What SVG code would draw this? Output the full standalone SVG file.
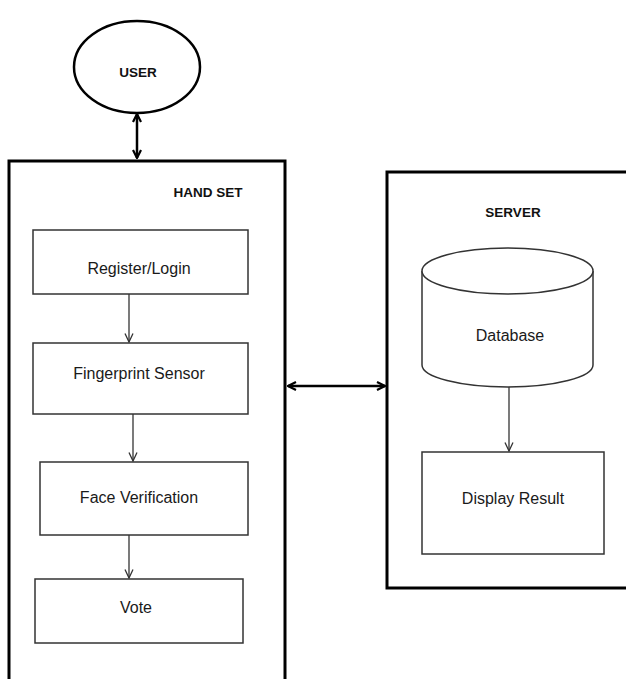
<svg xmlns="http://www.w3.org/2000/svg" width="626" height="679" viewBox="0 0 626 679">
<style>
.bg{fill:#fff}
.big{fill:none;stroke:#000;stroke-width:3}
.box{fill:#fff;stroke:#333;stroke-width:1.5}
.lbl{font-family:"Liberation Sans",Arial,sans-serif;font-size:16px;fill:#1a1a1a;text-anchor:middle}
.ttl{font-family:"Liberation Sans",Arial,sans-serif;font-size:13.5px;font-weight:bold;fill:#111;text-anchor:middle}
.thick{stroke:#000;stroke-width:2.5;fill:none}
.thin{stroke:#333;stroke-width:1.3;fill:none}
</style>
<defs>
<marker id="ah" viewBox="0 0 10 10" refX="9" refY="5" markerWidth="10" markerHeight="10" markerUnits="userSpaceOnUse" orient="auto-start-reverse">
<path d="M1,1 L9,5 L1,9" fill="none" stroke="#000" stroke-width="2.2"/>
</marker>
<marker id="at" viewBox="0 0 10 10" refX="9.5" refY="5" markerWidth="10" markerHeight="10" markerUnits="userSpaceOnUse" orient="auto">
<path d="M1,1 L9.5,5 L1,9" fill="none" stroke="#333" stroke-width="1.3"/>
</marker>
</defs>
<rect class="bg" x="0" y="0" width="626" height="679"/>
<g id="handset">
<rect class="big" x="9" y="161" width="276" height="530"/>
<text class="ttl" x="208" y="197">HAND SET</text>
</g>
<g id="server">
<rect class="big" x="387" y="172" width="250" height="416"/>
<text class="ttl" x="513" y="217">SERVER</text>
</g>
<g id="user">
<ellipse cx="137" cy="67" rx="63" ry="46" fill="#fff" stroke="#000" stroke-width="2.5"/>
<text class="ttl" x="138" y="77">USER</text>
</g>
<g id="register">
<rect class="box" x="33" y="230" width="215" height="64"/>
<text class="lbl" x="139" y="274">Register/Login</text>
</g>
<g id="fingerprint">
<rect class="box" x="33" y="343" width="215" height="71"/>
<text class="lbl" x="139" y="379">Fingerprint Sensor</text>
</g>
<g id="face">
<rect class="box" x="40" y="462" width="208" height="73"/>
<text class="lbl" x="139" y="503">Face Verification</text>
</g>
<g id="vote">
<rect class="box" x="35" y="579" width="208" height="64"/>
<text class="lbl" x="136" y="613">Vote</text>
</g>
<g id="database">
<path d="M422,271 L422,365 A85.5,22 0 0 0 593,365 L593,271" fill="#fff" stroke="#333" stroke-width="1.5"/>
<ellipse cx="507.5" cy="271" rx="85.5" ry="23" fill="#fff" stroke="#333" stroke-width="1.5"/>
<text class="lbl" x="510" y="341">Database</text>
</g>
<g id="display">
<rect class="box" x="422" y="452" width="182" height="102"/>
<text class="lbl" x="513" y="504">Display Result</text>
</g>
<g id="connectors">
<line class="thick" x1="137" y1="114" x2="137" y2="158" marker-start="url(#ah)" marker-end="url(#ah)"/>
<line class="thick" x1="288" y1="386" x2="385" y2="386" marker-start="url(#ah)" marker-end="url(#ah)"/>
<line class="thin" x1="129" y1="294" x2="129" y2="342" marker-end="url(#at)"/>
<line class="thin" x1="133" y1="414" x2="133" y2="461" marker-end="url(#at)"/>
<line class="thin" x1="129" y1="535" x2="129" y2="578" marker-end="url(#at)"/>
<line class="thin" x1="509" y1="387" x2="509" y2="451" marker-end="url(#at)"/>
</g>
</svg>
